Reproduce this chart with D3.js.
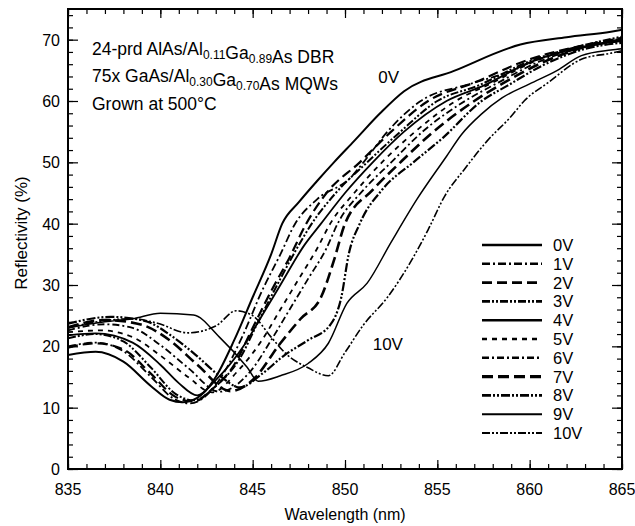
<!DOCTYPE html>
<html>
<head>
<meta charset="utf-8">
<script src="https://cdn.jsdelivr.net/npm/d3@7"></script>
<style>
  body { margin: 0; background: #fff; }
  text { font-family: "Liberation Sans", Arial, sans-serif; fill: #000; }
</style>
</head>
<body>
<div id="chart"></div>
<script>
// reflectivity curves, [wavelength nm, reflectivity %]
const v0 = [[835,18.6],[836.5,19.1],[838,17.5],[839.5,13.5],[840.5,11.3],[841.2,10.9],[842,11.6],[843,15],[844,21],[845,28],[846,35],[846.6,40],[847.5,43.5],[848.5,47],[849.4,50],[850.5,53.5],[851.9,58],[853.2,61.6],[855.9,64.9],[859.5,69.2],[862,70.4],[864.4,71.3],[865,71.6]];
const v1 = [[835,20.0],[836.5,20.6],[838,19.2],[839.5,15],[840.7,11.5],[841.6,10.7],[842.5,12],[843.5,16],[844.5,22],[845.5,29],[846.5,35],[847.3,40],[848.5,44],[850.3,47.5],[851,50],[852.3,55],[854.1,60],[856.8,62.8],[859.1,65],[860.2,66.5],[862.5,68.5],[865,69.8]];
const v2 = [[835,19.8],[836.5,20.5],[838,19.5],[839.5,15.5],[840.8,11.8],[841.8,11.0],[842.8,13],[844,17],[845,23],[846,29],[847,34.5],[847.9,40],[849,45],[850.8,50],[852.5,55],[854.5,60],[857,63],[860,66.8],[862.8,69],[865,70.3]];
const v3 = [[835,21.3],[836.5,22],[838,20.8],[839.5,16.5],[840.8,12.3],[841.8,11.2],[843,13.5],[844.3,18],[845.3,24],[846.5,31],[847.4,36],[848.2,40],[849.5,45],[851.2,50],[853,55],[855,60],[857.2,62.5],[860,66.5],[862.8,69],[865,70.5]];
const v4 = [[835,21.8],[836.5,22.1],[838.5,20.6],[840,17],[841,14],[842,12],[843,14.5],[844.5,20],[845.5,25],[846.5,30],[847.8,36.5],[848.7,40],[850,45],[851.5,50],[853.2,55],[855.5,60],[857.5,62.5],[860,66.3],[862.8,68.8],[865,70]];
const v5 = [[835,22.3],[836.8,22.6],[838.5,21.5],[840,18.5],[841.5,15],[842.8,12.5],[844.2,16],[845.5,21],[846.5,26],[847.5,31],[848.5,36],[849.2,40],[850.5,45],[852,50],[853.8,55],[856,60],[858,63],[860.3,66.5],[863,69],[865,70.2]];
const v6 = [[835,22.6],[837,23.6],[838.5,23],[840,20.2],[841.5,16.5],[843.2,12.6],[844.9,16],[846,21],[847,26],[848,31],[849,36],[849.6,40],[851,45.5],[852.5,50],[854.2,55],[856.5,60],[858.3,63],[860.5,66.4],[863,68.8],[865,69.8]];
const v7 = [[835,23.1],[837,24.3],[839,23.5],[840.5,21],[842,17],[843.8,12.7],[845,14.5],[846.5,20.5],[847.6,24.5],[848.7,28],[849.4,34],[850,40],[851.5,45.5],[853,50],[854.6,54.5],[857,60],[858.5,62.8],[860.5,66],[863,68.8],[865,70]];
const v8 = [[835,23.7],[837.3,24.8],[839.1,24.2],[840.7,21.5],[841.8,18.9],[843.3,15],[844.3,13.3],[845.5,15.5],[846.7,18.5],[848,21],[849.2,23.5],[849.8,28],[850.2,35],[850.8,40],[852,45.5],[853.7,50],[855.3,54],[857.4,60],[858.8,62.5],[860.7,65.8],[863,68.5],[865,69.5]];
const v9 = [[835,23.0],[837,24.0],[838.5,24.5],[840,25.4],[841.8,25.1],[843.2,21.5],[844.7,16.6],[845.3,14.3],[846.5,15.2],[848,17.2],[849.1,20.5],[850.1,27],[851.2,30.3],[852.5,37],[853.9,44],[855.5,51],[856.3,54.5],[857.4,57.9],[858.5,60.5],[860,62.8],[861.5,65],[862.8,67.4],[864.4,68.3],[865,68.5]];
const v10 = [[835,23.0],[837,24.2],[838.5,24.5],[839.8,23.8],[841.5,22.2],[843,23.3],[844.1,25.8],[845,25],[846,21.5],[846.8,18.8],[848,16.5],[849.1,15.2],[850,19],[851,23.5],[852.3,28],[853.6,34],[854.5,39],[855.4,44.5],[856.5,49],[857.7,53.5],[859,57.5],[859.7,60],[861,63],[862.8,66.8],[864.4,67.8],[865,68.2]];

const voltages = ["0V","1V","2V","3V","4V","5V","6V","7V","8V","9V","10V"];
const series = [v0, v1, v2, v3, v4, v5, v6, v7, v8, v9, v10];

const xMajor = [835, 840, 845, 850, 855, 860, 865];
const yMajor = [0, 10, 20, 30, 40, 50, 60, 70];

// line styles, same order as the legend
const styles = [
  {dash: null, w: 2},
  {dash: "8,3,2,3", w: 1.8},
  {dash: "10,5", w: 2.2},
  {dash: "8,2,2,2,2,2", w: 2},
  {dash: null, w: 1.8},
  {dash: "5,5", w: 1.8},
  {dash: "7,3,2,3", w: 1.8},
  {dash: "11,5", w: 2.6},
  {dash: "9,2,2,2,2,2", w: 2.2},
  {dash: null, w: 1.5},
  {dash: "8,2,2,2,2,2", w: 1.6}
];

const margin = {top: 9, right: 13, bottom: 57, left: 68};
const W = 635, H = 526;
const width = W - margin.left - margin.right;
const height = H - margin.top - margin.bottom;

const svg = d3.select("#chart").append("svg")
  .attr("width", W)
  .attr("height", H)
  .append("g")
  .attr("transform", "translate(" + margin.left + "," + margin.top + ")");

const x = d3.scaleLinear().domain([835, 865]).range([0, width]);
const y = d3.scaleLinear().domain([0, 75]).range([height, 0]);

svg.append("defs").append("clipPath")
  .attr("id", "clip")
  .append("rect")
  .attr("width", width)
  .attr("height", height);

// ticks pointing inward on all four sides
function tickSet(sel, axis, size) {
  sel.call(axis.tickSize(size).tickFormat(""));
  sel.select(".domain").remove();
  sel.selectAll("line").attr("stroke", "#000").attr("stroke-width", 1.2);
}
const xMinor = d3.range(835, 866, 1);
const yMinor = d3.range(0, 76, 2);

svg.append("g").attr("transform", "translate(0," + height + ")")
  .call(g => tickSet(g, d3.axisTop(x).tickValues(xMinor), 5));
svg.append("g").attr("transform", "translate(0," + height + ")")
  .call(g => tickSet(g, d3.axisTop(x).tickValues(xMajor), 9));
svg.append("g")
  .call(g => tickSet(g, d3.axisBottom(x).tickValues(xMinor), 5));
svg.append("g")
  .call(g => tickSet(g, d3.axisBottom(x).tickValues(xMajor), 9));
svg.append("g")
  .call(g => tickSet(g, d3.axisRight(y).tickValues(yMinor), 5));
svg.append("g")
  .call(g => tickSet(g, d3.axisRight(y).tickValues(yMajor), 10));
svg.append("g").attr("transform", "translate(" + width + ",0)")
  .call(g => tickSet(g, d3.axisLeft(y).tickValues(yMinor), 5));
svg.append("g").attr("transform", "translate(" + width + ",0)")
  .call(g => tickSet(g, d3.axisLeft(y).tickValues(yMajor), 10));

// frame
svg.append("rect")
  .attr("width", width)
  .attr("height", height)
  .attr("fill", "none")
  .attr("stroke", "#000")
  .attr("stroke-width", 2);

// tick labels
svg.append("g").selectAll("text")
  .data(xMajor).join("text")
  .attr("x", d => x(d))
  .attr("y", height + 26)
  .attr("text-anchor", "middle")
  .attr("font-size", 16)
  .text(d => d);

svg.append("g").selectAll("text")
  .data(yMajor).join("text")
  .attr("x", -8)
  .attr("y", d => y(d) + 6)
  .attr("text-anchor", "end")
  .attr("font-size", 16)
  .text(d => d);

svg.append("text")
  .attr("x", width / 2)
  .attr("y", height + 51)
  .attr("text-anchor", "middle")
  .attr("font-size", 16)
  .text("Wavelength (nm)");

svg.append("text")
  .attr("transform", "translate(-41," + (height / 2 - 6) + ") rotate(-90)")
  .attr("text-anchor", "middle")
  .attr("font-size", 17)
  .text("Reflectivity (%)");

// curves
const line = d3.line()
  .curve(d3.curveMonotoneX)
  .x(d => x(d[0]))
  .y(d => y(d[1]));

svg.append("g").attr("clip-path", "url(#clip)")
  .selectAll("path")
  .data(series).join("path")
  .attr("d", line)
  .attr("fill", "none")
  .attr("stroke", "#000")
  .attr("stroke-width", (d, i) => styles[i].w)
  .attr("stroke-dasharray", (d, i) => styles[i].dash)
  .attr("stroke-linejoin", "round");

// annotation block
function sub(t, parts) {
  parts.forEach(p => {
    if (p.s) {
      t.append("tspan").attr("font-size", 12).attr("dy", 4).text(p.s);
      t.append("tspan").attr("dy", -4).text("");
    } else {
      t.append("tspan").text(p.t);
    }
  });
}
const note = svg.append("g").attr("font-size", 17.5);
sub(note.append("text").attr("x", 24).attr("y", 46),
  [{t: "24-prd AlAs/Al"}, {s: "0.11"}, {t: "Ga"}, {s: "0.89"}, {t: "As DBR"}]);
sub(note.append("text").attr("x", 24).attr("y", 73),
  [{t: "75x GaAs/Al"}, {s: "0.30"}, {t: "Ga"}, {s: "0.70"}, {t: "As MQWs"}]);
note.append("text").attr("x", 24).attr("y", 101).text("Grown at 500°C");

svg.append("text").attr("x", x(851.8)).attr("y", 74)
  .attr("font-size", 17).text("0V");
svg.append("text").attr("x", x(851.5)).attr("y", 341)
  .attr("font-size", 17).text("10V");

// legend
const legend = svg.append("g")
  .attr("transform", "translate(" + (482 - margin.left) + "," + (245 - margin.top) + ")");
const rows = legend.selectAll("g")
  .data(voltages).join("g")
  .attr("transform", (d, i) => "translate(0," + (i * 18.8) + ")");
rows.append("line")
  .attr("x1", 0).attr("x2", 60)
  .attr("stroke", "#000")
  .attr("stroke-width", (d, i) => styles[i].w + 0.6)
  .attr("stroke-dasharray", (d, i) => styles[i].dash);
rows.append("text")
  .attr("x", 71)
  .attr("y", 6)
  .attr("font-size", 16.5)
  .text(d => d);
</script>
</body>
</html>
